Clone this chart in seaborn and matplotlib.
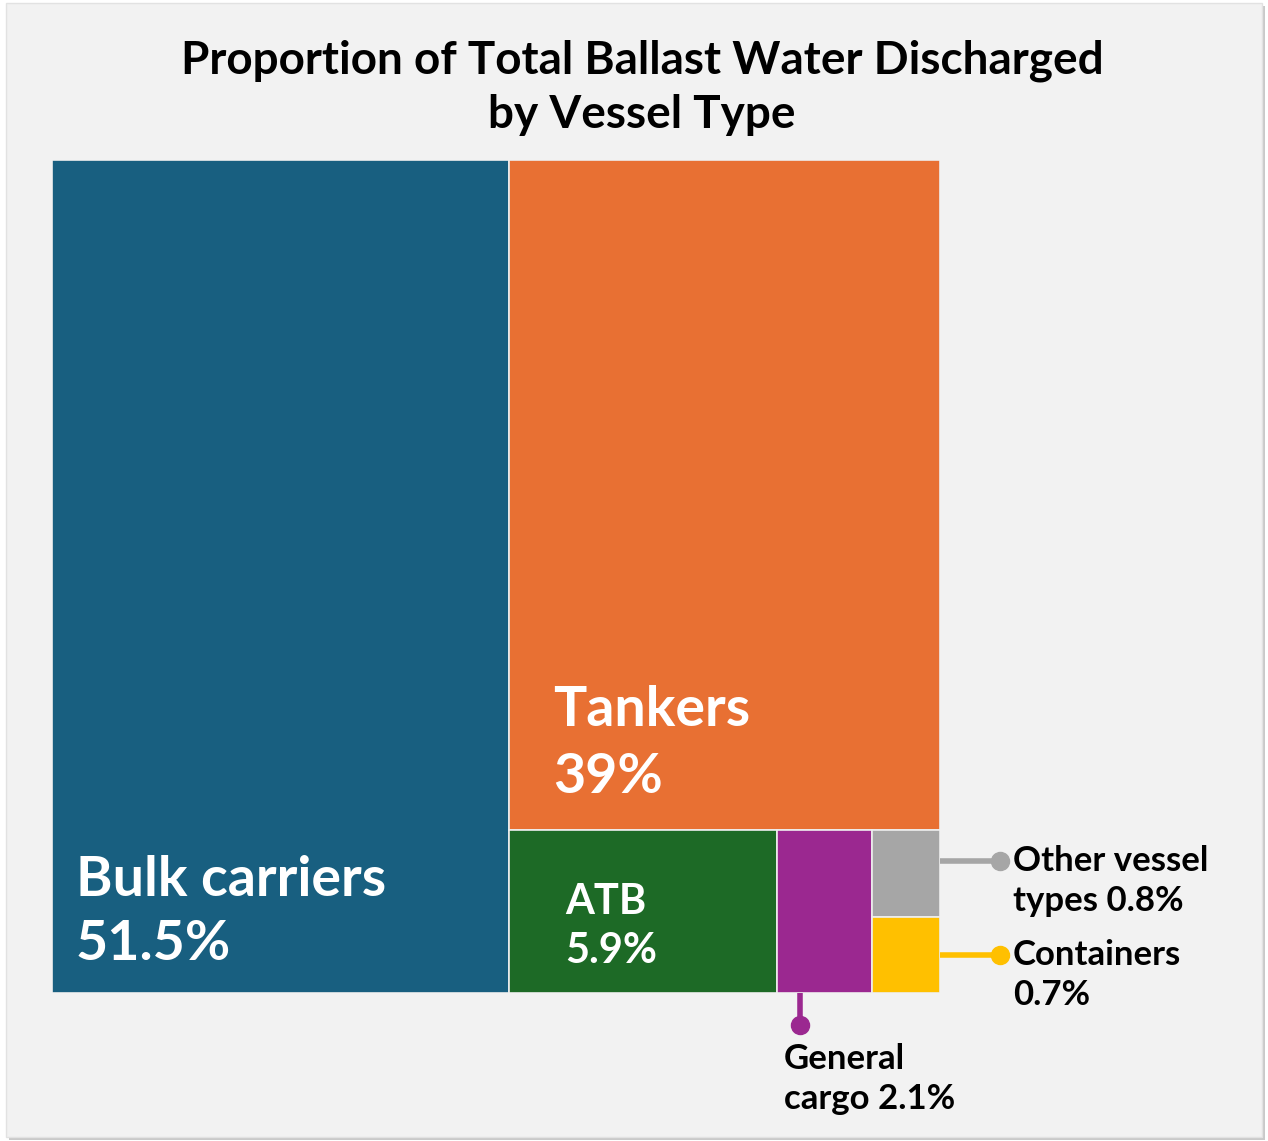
import matplotlib
matplotlib.use("Agg")
import matplotlib.pyplot as plt
import seaborn as sns
from matplotlib.patches import Rectangle

# Werte aus dem Bild (Anteil am gesamten Ballastwasser, %)
vessel_types = ["Bulk carriers", "Tankers", "ATB", "General cargo", "Other vessel types", "Containers"]
shares = [51.5, 39.0, 5.9, 2.1, 0.8, 0.7]
share_labels = ["51.5%", "39%", "5.9%", "2.1%", "0.8%", "0.7%"]
colors = ["#185f80", "#e87033", "#1d6a26", "#9b2890", "#a6a6a6", "#ffc000"]

FIG_W, FIG_H = 1268, 1141
MAP_W, MAP_H = 888, 833  # Fläche der Treemap in Pixeln


def worst(row, side):
    s = sum(row)
    return max(max(side ** 2 * r / s ** 2, s ** 2 / (side ** 2 * r)) for r in row)


def squarify(areas, x, y, w, h):
    """Einfacher squarified Treemap-Algorithmus (y wächst nach unten)."""
    rects = []
    areas = list(areas)
    while areas:
        side = min(w, h)
        row = [areas.pop(0)]
        while areas and worst(row + [areas[0]], side) <= worst(row, side):
            row.append(areas.pop(0))
        s = sum(row)
        if w >= h:
            cw = s / h
            yy = y
            for a in row:
                rects.append((x, yy, cw, a / cw))
                yy += a / cw
            x += cw
            w -= cw
        else:
            rh = s / w
            xx = x
            for a in row:
                rects.append((xx, y, a / rh, rh))
                xx += a / rh
            y += rh
            h -= rh
    return rects


sns.set_theme(style="white")
plt.rcParams["font.family"] = ["Lato", "DejaVu Sans"]

fig = plt.figure(figsize=(FIG_W / 100, FIG_H / 100), dpi=100, facecolor="white")

# Hintergrundkarte mit leichtem Schatten
fig.patches.append(Rectangle((9 / FIG_W, 1 / FIG_H), 1256 / FIG_W, 1134 / FIG_H,
                             transform=fig.transFigure, facecolor="#c9c9c9", edgecolor="none", zorder=-20))
fig.patches.append(Rectangle((6 / FIG_W, 4 / FIG_H), 1256 / FIG_W, 1134 / FIG_H,
                             transform=fig.transFigure, facecolor="#f2f2f2", edgecolor="#e2e2e2", zorder=-10))

fig.text(642 / FIG_W, 1 - 88 / FIG_H, "Proportion of Total Ballast Water Discharged\nby Vessel Type",
         ha="center", va="center", fontsize=33, fontweight="bold", color="black", linespacing=1.36)

ax = fig.add_axes([52 / FIG_W, (FIG_H - 993) / FIG_H, MAP_W / FIG_W, MAP_H / FIG_H])
ax.set_xlim(0, MAP_W)
ax.set_ylim(MAP_H, 0)
ax.axis("off")

total = sum(shares)
areas = [v / total * MAP_W * MAP_H for v in shares]
rects = squarify(areas, 0, 0, MAP_W, MAP_H)

for (x, y, w, h), c in zip(rects, colors):
    ax.bar(x, h, width=w, bottom=y, align="edge", color=c, edgecolor="#eeeeee", linewidth=1.2)

# Beschriftungen innerhalb der Felder: (Abstand links, Abstand unten, Schriftgröße, Zeilenabstand)
inside = {0: (24, 24, 40, 1.34), 1: (44, 28, 40, 1.4), 2: (56, 23, 30, 1.36)}
for i, (dx, dy, fs, ls) in inside.items():
    x, y, w, h = rects[i]
    ax.text(x + dx, y + h - dy, f"{vessel_types[i]}\n{share_labels[i]}", ha="left", va="bottom",
            fontsize=fs, fontweight="bold", color="white", linespacing=ls)

# Beschriftungen mit Führungslinien
for i in (4, 5):
    x, y, w, h = rects[i]
    ly = y + h * (0.36 if i == 4 else 0.5)
    ax.plot([x + w, x + w + 60], [ly, ly], color=colors[i], lw=4, solid_capstyle="butt", clip_on=False)
    ax.plot(x + w + 60, ly, "o", color=colors[i], ms=13, clip_on=False)
x, y, w, h = rects[4]
ax.text(x + w + 73, y + h * 0.36 - 16, "Other vessel\ntypes " + share_labels[4], ha="left", va="top",
        fontsize=25, fontweight="bold", color="black", linespacing=1.3, clip_on=False)
x, y, w, h = rects[5]
ax.text(x + w + 73, y + h * 0.5 - 16, "Containers\n" + share_labels[5], ha="left", va="top",
        fontsize=25, fontweight="bold", color="black", linespacing=1.3, clip_on=False)

x, y, w, h = rects[3]
lx = x + w * 0.24
ax.plot([lx, lx], [y + h, y + h + 32], color=colors[3], lw=4, solid_capstyle="butt", clip_on=False)
ax.plot(lx, y + h + 32, "o", color=colors[3], ms=13, clip_on=False)
ax.text(x + 7, y + h + 50, "General\ncargo " + share_labels[3], ha="left", va="top",
        fontsize=25, fontweight="bold", color="black", linespacing=1.3, clip_on=False)

fig.savefig("out.png", dpi=100, facecolor="white")
